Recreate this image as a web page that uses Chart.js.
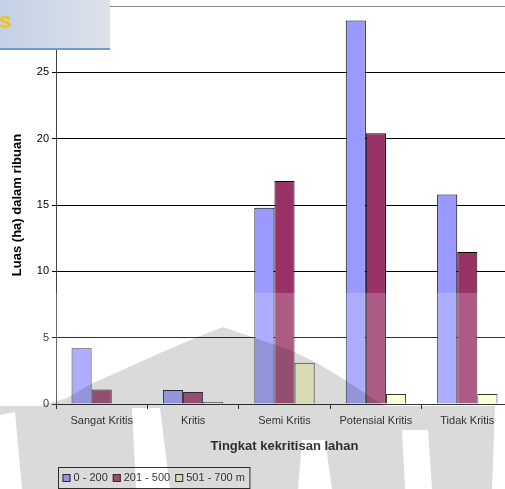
<!DOCTYPE html>
<html>
<head>
<meta charset="utf-8">
<script src="https://cdn.jsdelivr.net/npm/chart.js@4.4.1/dist/chart.umd.min.js"></script>
<style>
  html, body { margin: 0; padding: 0; background: #fff; overflow: hidden; }
  #wrap { position: relative; width: 505px; height: 489px; overflow: hidden; }
  canvas { display: block; }
</style>
</head>
<body>
<div id="wrap"><canvas id="chart" width="520" height="489"></canvas></div>
<script>
// data (luas dalam ribuan ha)
const categories = ['Sangat Kritis', 'Kritis', 'Semi Kritis', 'Potensial Kritis', 'Tidak Kritis'];
const seriesNames = ['0 - 200', '201 - 500', '501 - 700 m'];
const luas0to200 = [4.2, 1.05, 14.8, 28.9, 15.8];
const luas201to500 = [1.1, 0.9, 16.8, 20.4, 11.45];
const luas501to700 = [null, 0.15, 3.1, 0.75, 0.75];
const yTicks = [0, 5, 10, 15, 20, 25, 30];

const FONT = "'Liberation Sans', Arial, sans-serif";
const colors = ['#9999FF', '#993366', '#FFFFCC'];

// legend kotak di bawah (digambar sendiri)
const boxLegend = {
  id: 'boxLegend',
  afterDraw(chart) {
    const ctx = chart.ctx;
    const left = 58.5, top = 467.5, cy = 478;
    ctx.save();
    ctx.font = '11px ' + FONT;
    ctx.textBaseline = 'middle';
    let x = left + 4;
    chart.data.datasets.forEach(ds => {
      ctx.fillStyle = ds.backgroundColor;
      ctx.fillRect(x, cy - 4, 8, 8);
      ctx.strokeStyle = '#000';
      ctx.lineWidth = 1;
      ctx.strokeRect(x + 0.5, cy - 3.5, 7, 7);
      x += 11;
      ctx.fillStyle = '#000';
      ctx.fillText(ds.label, x, cy);
      x += ctx.measureText(ds.label).width + 5;
    });
    ctx.strokeStyle = '#000';
    ctx.strokeRect(left, top, x - left, 21);
    ctx.restore();
  }
};

// watermark abu-abu + kotak judul di kiri atas
const watermark = {
  id: 'watermark',
  afterDraw(chart) {
    const ctx = chart.ctx;
    const h = chart.height;
    ctx.save();
    ctx.fillStyle = 'rgba(255,255,255,0.2)';
    ctx.fillRect(0, 293, chart.width, h - 293);

    ctx.globalCompositeOperation = 'multiply';
    ctx.fillStyle = '#dadada';
    // kubah
    ctx.beginPath();
    [[40, 406], [67, 398], [93, 383], [127, 368], [160, 353], [195, 338], [223, 327],
     [252, 337], [290, 350], [317, 363], [345, 380], [372, 398], [385, 406]]
      .forEach((p, i) => i ? ctx.lineTo(p[0], p[1]) : ctx.moveTo(p[0], p[1]));
    ctx.closePath();
    ctx.fill();
    // bagian bawah dengan celah putih
    ctx.beginPath();
    ctx.rect(0, 406, chart.width, h - 406);
    const holes = [
      [[0, 415], [15, 412], [22, h], [0, h]],
      [[132, 408], [160, 408], [170, h], [136, h]],
      [[302, 440], [325, 440], [332, h], [298, h]],
      [[402, 430], [428, 430], [432, h], [405, h]],
      [[495, 406], [520, 406], [520, h], [492, h]]
    ];
    holes.forEach(poly => {
      poly.forEach((p, i) => i ? ctx.lineTo(p[0], p[1]) : ctx.moveTo(p[0], p[1]));
      ctx.closePath();
    });
    ctx.fill('evenodd');

    ctx.globalCompositeOperation = 'source-over';
    const g = ctx.createLinearGradient(0, 0, 110, 0);
    g.addColorStop(0, '#c3d1e5');
    g.addColorStop(1, '#dde2e9');
    ctx.fillStyle = g;
    ctx.fillRect(0, 0, 110, 48);
    ctx.fillStyle = '#6f9bd1';
    ctx.fillRect(0, 48, 110, 2);
    ctx.fillStyle = '#f4c20d';
    ctx.font = 'bold 22px ' + FONT;
    ctx.textBaseline = 'alphabetic';
    ctx.fillText('s', -1, 28);
    ctx.restore();
  }
};

const ctx = document.getElementById('chart');
new Chart(ctx, {
  type: 'bar',
  data: {
    labels: categories,
    datasets: [luas0to200, luas201to500, luas501to700].map((vals, i) => ({
      label: seriesNames[i],
      data: vals,
      backgroundColor: colors[i],
      borderColor: '#000',
      borderWidth: 1,
      categoryPercentage: 0.66,
      barPercentage: 1.0
    }))
  },
  options: {
    responsive: false,
    animation: false,
    layout: { padding: { top: 6, right: 7, bottom: 31, left: 0 } },
    plugins: {
      legend: { display: false },
      tooltip: { enabled: false }
    },
    scales: {
      x: {
        grid: { offset: true, drawOnChartArea: false, color: '#000', tickLength: 5 },
        border: { color: '#000' },
        ticks: { color: '#000', font: { family: FONT, size: 11 }, padding: 5, maxRotation: 0 },
        title: {
          display: true,
          text: 'Tingkat kekritisan lahan',
          color: '#000',
          font: { family: FONT, size: 13, weight: 'bold' },
          padding: { top: 0, bottom: 4 }
        },
        afterFit(scale) { scale.height = 54; }
      },
      y: {
        min: yTicks[0],
        max: yTicks[yTicks.length - 1],
        afterBuildTicks(scale) { scale.ticks = yTicks.map(v => ({ value: v })); },
        grid: {
          color: c => c.tick && c.tick.value === 30 ? '#888' : '#000',
          tickLength: 4
        },
        border: { color: '#444' },
        ticks: { color: '#000', font: { family: FONT, size: 11 }, padding: 3 },
        title: {
          display: true,
          text: 'Luas (ha) dalam ribuan',
          color: '#000',
          font: { family: FONT, size: 13, weight: 'bold' },
          padding: { top: 10, bottom: 0 }
        },
        afterFit(scale) {
          scale.width = 56;
          scale.paddingTop = 0;
          scale.paddingBottom = 0;
        }
      }
    }
  },
  plugins: [boxLegend, watermark]
});
</script>
</body>
</html>
